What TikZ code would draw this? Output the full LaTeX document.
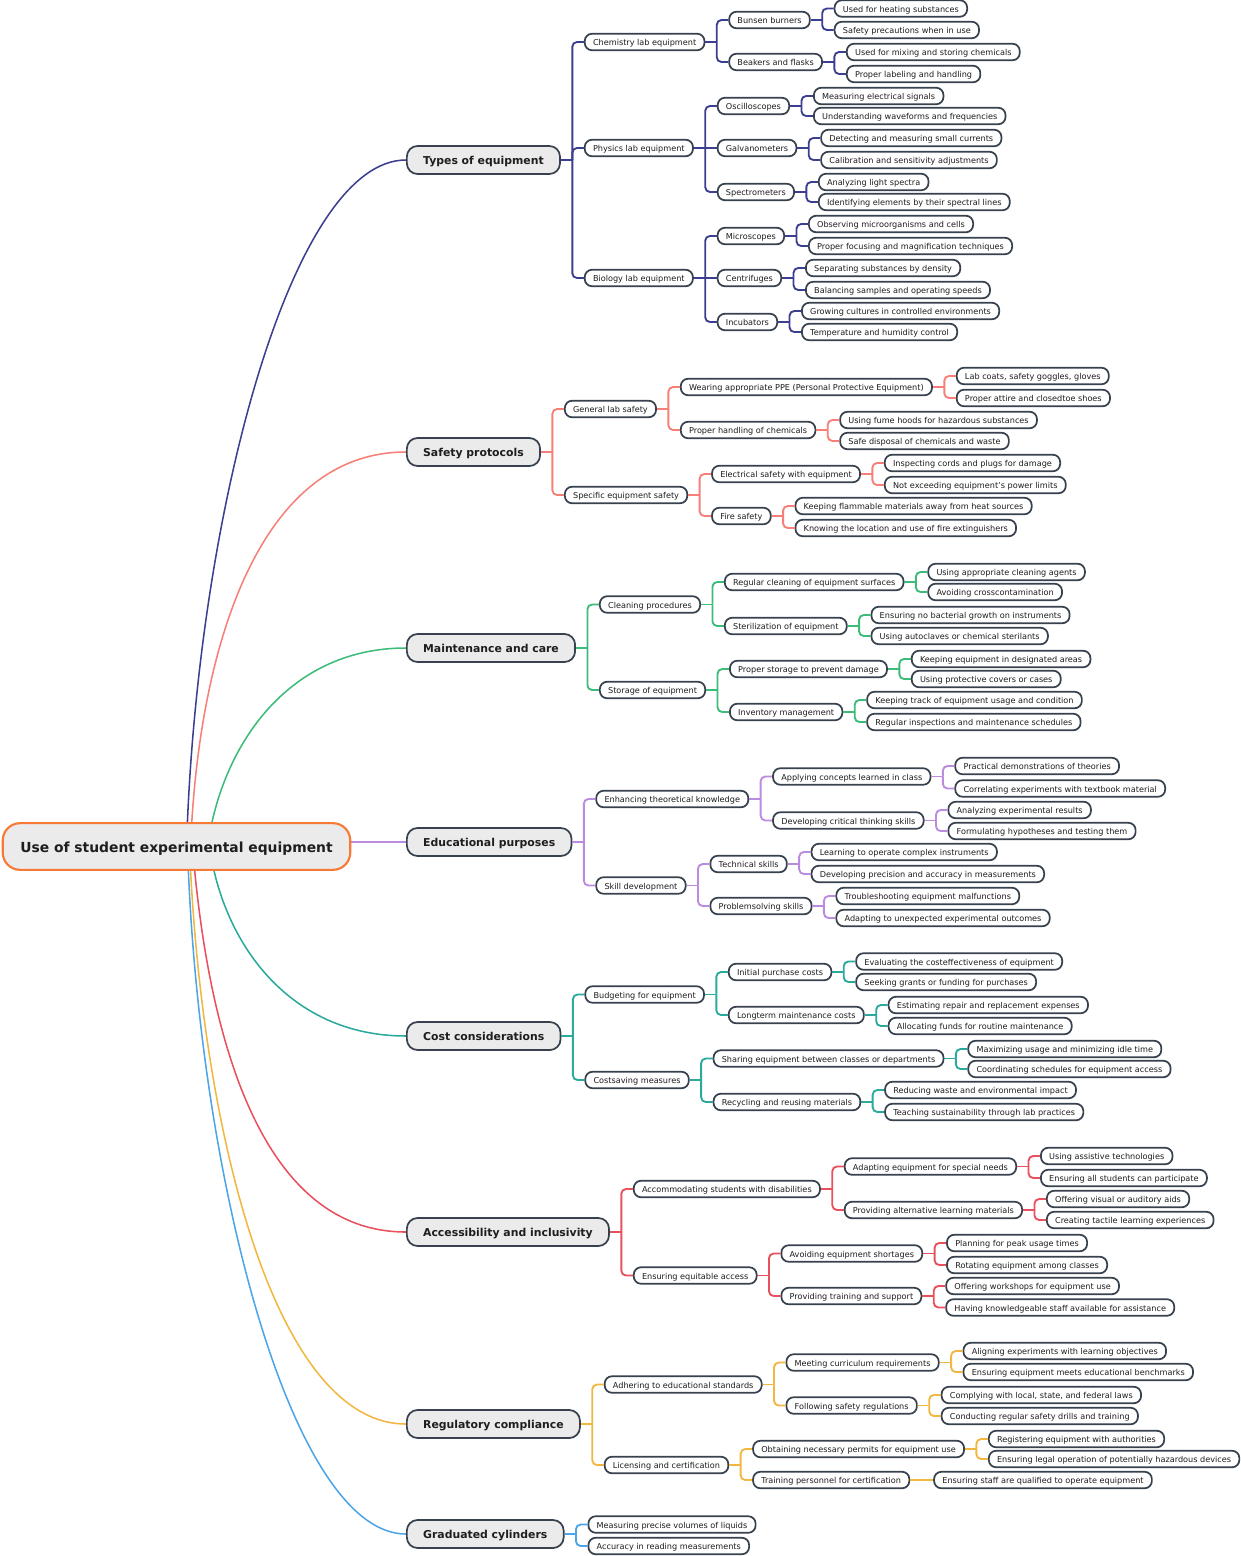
\documentclass[tikz,border=0pt]{standalone}
\usepackage{fontspec}
\setmainfont{DejaVu Sans}
\usetikzlibrary{backgrounds}
\definecolor{cA}{HTML}{3C3F8F}
\definecolor{cB}{HTML}{F77F78}
\definecolor{cC}{HTML}{3DBB79}
\definecolor{cD}{HTML}{BB8BE0}
\definecolor{cE}{HTML}{2AA99C}
\definecolor{cF}{HTML}{E8505E}
\definecolor{cG}{HTML}{F2B740}
\definecolor{cH}{HTML}{4CA5E6}
\definecolor{rootc}{HTML}{F67A36}
\definecolor{edgec}{HTML}{37424E}
\definecolor{fillc}{HTML}{EBEBEB}
\definecolor{txtc}{HTML}{1E1E1E}
\tikzset{
  bx/.style={draw=edgec, line width=1.3pt, fill=white, rounded corners=5.5pt,
    minimum height=12.4pt, inner xsep=6.2pt, inner ysep=0pt, text=txtc,
    text height=5.8pt, text depth=0.3pt,
    font=\fontsize{6.1}{7}\selectfont},
  lone/.style={draw=edgec, line width=1.3pt, fill=fillc, rounded corners=8pt,
    minimum height=21pt, inner xsep=12.2pt, inner ysep=0pt, text=txtc,
    text height=7.6pt, text depth=0.4pt,
    font=\bfseries\fontsize{8.15}{10}\selectfont},
  rootbox/.style={draw=rootc, line width=1.6pt, fill=fillc, rounded corners=13pt,
    minimum height=35pt, inner xsep=13.2pt, inner ysep=0pt, text=txtc,
    text height=9.6pt, text depth=0.6pt,
    font=\bfseries\fontsize{10.4}{12}\selectfont},
  rl/.style={line width=1.15pt},
  link/.style={line width=1.4pt}
}
\newcommand\kid[4]{%
  \node[bx,anchor=west,xshift=17.25pt] (#1) at (#2.east |- 0,#3) {#4};
  \draw[link] (#2.east) -- ([xshift=8.6pt]#2.east);
  \draw[link,rounded corners=3.5pt] ([xshift=8.6pt]#2.east) |- (#1.west);
}
\newcommand\kidflat[3]{%
  \node[bx,anchor=west,xshift=17.25pt] (#1) at (#2.east) {#3};
  \draw[link] (#2.east) -- (#1.west);
}
\begin{document}
\begin{tikzpicture}[x=0.75pt,y=-0.75pt]
\useasboundingbox (0,0) rectangle (1240,1556);
\node[rootbox] (root) at (176.5,846.5) {Use of student experimental equipment};

\begin{scope}[link/.style={draw=cA,line width=1.4pt}]
\node[lone,anchor=west] (t1) at (406,160) {Types of equipment};
\kid{a1}{t1}{42}{Chemistry lab equipment}
\kid{a11}{a1}{20}{Bunsen burners}
\kid{a111}{a11}{8.5}{Used for heating substances}
\kid{a112}{a11}{30}{Safety precautions when in use}
\kid{a12}{a1}{62}{Beakers and flasks}
\kid{a121}{a12}{52}{Used for mixing and storing chemicals}
\kid{a122}{a12}{74}{Proper labeling and handling}
\kid{a2}{t1}{148}{Physics lab equipment}
\kid{a21}{a2}{106}{Oscilloscopes}
\kid{a211}{a21}{96}{Measuring electrical signals}
\kid{a212}{a21}{116}{Understanding waveforms and frequencies}
\kidflat{a22}{a2}{Galvanometers}
\kid{a221}{a22}{138}{Detecting and measuring small currents}
\kid{a222}{a22}{160}{Calibration and sensitivity adjustments}
\kid{a23}{a2}{192}{Spectrometers}
\kid{a231}{a23}{182}{Analyzing light spectra}
\kid{a232}{a23}{202}{Identifying elements by their spectral lines}
\kid{a3}{t1}{278}{Biology lab equipment}
\kid{a31}{a3}{236}{Microscopes}
\kid{a311}{a31}{224}{Observing microorganisms and cells}
\kid{a312}{a31}{246}{Proper focusing and magnification techniques}
\kidflat{a32}{a3}{Centrifuges}
\kid{a321}{a32}{268}{Separating substances by density}
\kid{a322}{a32}{290}{Balancing samples and operating speeds}
\kid{a33}{a3}{322}{Incubators}
\kid{a331}{a33}{311}{Growing cultures in controlled environments}
\kid{a332}{a33}{332}{Temperature and humidity control}
\end{scope}

\begin{scope}[link/.style={draw=cB,line width=1.4pt}]
\node[lone,anchor=west] (t2) at (406,452) {Safety protocols};
\kid{b1}{t2}{409}{General lab safety}
\kid{b11}{b1}{387}{Wearing appropriate PPE (Personal Protective Equipment)}
\kid{b111}{b11}{376}{Lab coats, safety goggles, gloves}
\kid{b112}{b11}{398}{Proper attire and closedtoe shoes}
\kid{b12}{b1}{430}{Proper handling of chemicals}
\kid{b121}{b12}{420}{Using fume hoods for hazardous substances}
\kid{b122}{b12}{441}{Safe disposal of chemicals and waste}
\kid{b2}{t2}{495}{Specific equipment safety}
\kid{b21}{b2}{474}{Electrical safety with equipment}
\kid{b211}{b21}{463}{Inspecting cords and plugs for damage}
\kid{b212}{b21}{485}{Not exceeding equipment's power limits}
\kid{b22}{b2}{516}{Fire safety}
\kid{b221}{b22}{506}{Keeping flammable materials away from heat sources}
\kid{b222}{b22}{528}{Knowing the location and use of fire extinguishers}
\end{scope}

\begin{scope}[link/.style={draw=cC,line width=1.4pt}]
\node[lone,anchor=west] (t3) at (406,648) {Maintenance and care};
\kid{c1}{t3}{604.5}{Cleaning procedures}
\kid{c11}{c1}{582}{Regular cleaning of equipment surfaces}
\kid{c111}{c11}{572}{Using appropriate cleaning agents}
\kid{c112}{c11}{592}{Avoiding crosscontamination}
\kid{c12}{c1}{626}{Sterilization of equipment}
\kid{c121}{c12}{615}{Ensuring no bacterial growth on instruments}
\kid{c122}{c12}{636}{Using autoclaves or chemical sterilants}
\kid{c2}{t3}{690}{Storage of equipment}
\kid{c21}{c2}{669}{Proper storage to prevent damage}
\kid{c211}{c21}{659}{Keeping equipment in designated areas}
\kid{c212}{c21}{679}{Using protective covers or cases}
\kid{c22}{c2}{712}{Inventory management}
\kid{c221}{c22}{700}{Keeping track of equipment usage and condition}
\kid{c222}{c22}{722}{Regular inspections and maintenance schedules}
\end{scope}

\begin{scope}[link/.style={draw=cD,line width=1.4pt}]
\node[lone,anchor=west] (t4) at (406,842) {Educational purposes};
\kid{d1}{t4}{799}{Enhancing theoretical knowledge}
\kid{d11}{d1}{776.5}{Applying concepts learned in class}
\kid{d111}{d11}{766}{Practical demonstrations of theories}
\kid{d112}{d11}{788.5}{Correlating experiments with textbook material}
\kid{d12}{d1}{820.5}{Developing critical thinking skills}
\kid{d121}{d12}{810}{Analyzing experimental results}
\kid{d122}{d12}{831}{Formulating hypotheses and testing them}
\kid{d2}{t4}{885.5}{Skill development}
\kid{d21}{d2}{864}{Technical skills}
\kid{d211}{d21}{852}{Learning to operate complex instruments}
\kid{d212}{d21}{874}{Developing precision and accuracy in measurements}
\kid{d22}{d2}{906}{Problemsolving skills}
\kid{d221}{d22}{896}{Troubleshooting equipment malfunctions}
\kid{d222}{d22}{918}{Adapting to unexpected experimental outcomes}
\end{scope}

\begin{scope}[link/.style={draw=cE,line width=1.4pt}]
\node[lone,anchor=west] (t5) at (406,1036) {Cost considerations};
\kid{e1}{t5}{994.5}{Budgeting for equipment}
\kid{e11}{e1}{972}{Initial purchase costs}
\kid{e111}{e11}{961.5}{Evaluating the costeffectiveness of equipment}
\kid{e112}{e11}{982}{Seeking grants or funding for purchases}
\kid{e12}{e1}{1015}{Longterm maintenance costs}
\kid{e121}{e12}{1005}{Estimating repair and replacement expenses}
\kid{e122}{e12}{1026}{Allocating funds for routine maintenance}
\kid{e2}{t5}{1080}{Costsaving measures}
\kid{e21}{e2}{1058.5}{Sharing equipment between classes or departments}
\kid{e211}{e21}{1049}{Maximizing usage and minimizing idle time}
\kid{e212}{e21}{1069}{Coordinating schedules for equipment access}
\kid{e22}{e2}{1102}{Recycling and reusing materials}
\kid{e221}{e22}{1090}{Reducing waste and environmental impact}
\kid{e222}{e22}{1112}{Teaching sustainability through lab practices}
\end{scope}

\begin{scope}[link/.style={draw=cF,line width=1.4pt}]
\node[lone,anchor=west] (t6) at (406,1232) {Accessibility and inclusivity};
\kid{f1}{t6}{1189}{Accommodating students with disabilities}
\kid{f11}{f1}{1166.5}{Adapting equipment for special needs}
\kid{f111}{f11}{1156}{Using assistive technologies}
\kid{f112}{f11}{1178}{Ensuring all students can participate}
\kid{f12}{f1}{1210}{Providing alternative learning materials}
\kid{f121}{f12}{1199}{Offering visual or auditory aids}
\kid{f122}{f12}{1220}{Creating tactile learning experiences}
\kid{f2}{t6}{1275.5}{Ensuring equitable access}
\kid{f21}{f2}{1253.5}{Avoiding equipment shortages}
\kid{f211}{f21}{1243}{Planning for peak usage times}
\kid{f212}{f21}{1265}{Rotating equipment among classes}
\kid{f22}{f2}{1296}{Providing training and support}
\kid{f221}{f22}{1286}{Offering workshops for equipment use}
\kid{f222}{f22}{1307.5}{Having knowledgeable staff available for assistance}
\end{scope}

\begin{scope}[link/.style={draw=cG,line width=1.4pt}]
\node[lone,anchor=west] (t7) at (406,1424) {Regulatory compliance};
\kid{g1}{t7}{1384.5}{Adhering to educational standards}
\kid{g11}{g1}{1362.5}{Meeting curriculum requirements}
\kid{g111}{g11}{1351}{Aligning experiments with learning objectives}
\kid{g112}{g11}{1372}{Ensuring equipment meets educational benchmarks}
\kid{g12}{g1}{1405.5}{Following safety regulations}
\kid{g121}{g12}{1395}{Complying with local, state, and federal laws}
\kid{g122}{g12}{1416}{Conducting regular safety drills and training}
\kid{g2}{t7}{1465}{Licensing and certification}
\kid{g21}{g2}{1449}{Obtaining necessary permits for equipment use}
\kid{g211}{g21}{1439}{Registering equipment with authorities}
\kid{g212}{g21}{1459}{Ensuring legal operation of potentially hazardous devices}
\kid{g22}{g2}{1480}{Training personnel for certification}
\kidflat{g221}{g22}{Ensuring staff are qualified to operate equipment}
\end{scope}

\begin{scope}[link/.style={draw=cH,line width=1.4pt}]
\node[lone,anchor=west] (t8) at (406,1534) {Graduated cylinders};
\kid{h1}{t8}{1524.5}{Measuring precise volumes of liquids}
\kid{h2}{t8}{1546}{Accuracy in reading measurements}
\end{scope}

\begin{scope}[on background layer]
\draw[rl,cA] ([shift={(10,1.5)}]root.center) .. controls (196,520) and (290,160) .. (t1.west);
\draw[rl,cB] ([shift={(14,1.5)}]root.center) .. controls (198,650) and (258,452) .. (t2.west);
\draw[rl,cC] ([shift={(31,1.5)}]root.center) .. controls (220,750) and (285,648) .. (t3.west);
\draw[rl,cD] (root.east |- t4.west) -- (t4.west);
\draw[rl,cE] ([shift={(33,-0.5)}]root.center) .. controls (222,940) and (287,1036) .. (t5.west);
\draw[rl,cF] ([shift={(16,-0.5)}]root.center) .. controls (208,1040) and (262,1232) .. (t6.west);
\draw[rl,cG] ([shift={(13,-0.5)}]root.center) .. controls (200,1120) and (272,1424) .. (t7.west);
\draw[rl,cH] ([shift={(11,-0.5)}]root.center) .. controls (197,1170) and (290,1534) .. (t8.west);
\end{scope}
\end{tikzpicture}
\end{document}
